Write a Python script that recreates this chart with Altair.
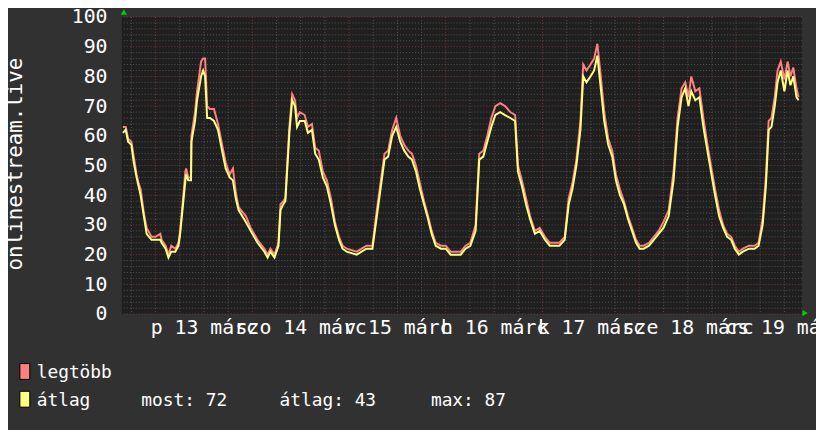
import altair as alt
import pandas as pd

# ---- data (hours since 13 March 00:00) ----
hours = [-8.1, -7.4, -6.8, -6.0, -5.4, -4.7, -4.2, -3.7, -2.9, -2.2, -1.0, 0.0, 1.2, 1.5, 2.5, 3.2, 3.9, 4.9,
         5.7, 6.1, 6.9, 7.4, 7.6, 8.1, 8.8, 8.9, 9.8, 10.3, 11.3, 11.8, 12.3, 12.8, 13.5, 14.5, 15.5, 16.5,
         17.4, 18.4, 19.2, 19.9, 20.6, 22.4, 23.6, 25.3, 27.0, 27.8, 28.5, 29.5, 30.5, 31.0, 31.7, 32.2,
         33.2, 33.9, 34.6, 35.1, 35.8, 37.0, 37.8, 38.8, 39.6, 40.5, 41.5, 42.5, 43.5, 44.5, 45.5, 46.4,
         47.4, 49.9, 52.3, 53.8, 54.8, 55.8, 56.8, 57.7, 58.7, 59.7, 60.7, 61.7, 62.7, 63.6, 64.6, 65.6,
         66.6, 67.6, 68.5, 69.5, 70.8, 72.0, 73.2, 75.7, 76.9, 78.1, 79.4, 80.3, 81.3, 82.3, 83.3, 84.3,
         85.5, 86.7, 88.0, 89.2, 89.9, 90.9, 91.9, 92.9, 94.1, 95.3, 96.6, 97.8, 99.0, 100.2, 101.5,
         102.5, 103.4, 104.4, 105.4, 106.1, 106.9, 107.9, 108.8, 109.6, 110.3, 111.3, 112.3, 113.3,
         114.2, 115.2, 116.2, 117.2, 118.2, 119.2, 120.1, 121.1, 122.4, 123.6, 124.8, 126.0, 127.3,
         128.5, 129.5, 130.5, 131.4, 132.2, 132.9, 133.9, 134.9, 135.9, 136.9, 137.9, 138.8, 139.8,
         140.8, 141.8, 142.8, 143.7, 144.7, 145.7, 147.2, 148.6, 149.6, 150.6, 151.4, 152.1, 152.8,
         153.6, 154.3, 155.1, 156.0, 156.8, 157.5, 158.2, 159.0, 159.5]

atlag = [61, 62, 58, 57, 51, 46, 43, 40, 33, 27, 25, 25, 25, 24, 22, 19, 21, 21,
         23, 27, 38, 45, 47, 45, 45, 58, 65, 72, 80, 82, 80, 66, 66, 65, 62, 55,
         49, 46, 45, 39, 35, 31, 28, 24, 21, 19, 21, 19, 23, 35, 37, 38,
         61, 72, 70, 63, 65, 65, 61, 62, 54, 52, 46, 43, 37, 30, 25, 22,
         21, 20, 22, 22, 32, 42, 52, 53, 60, 63, 58, 55, 53, 52, 48, 42,
         37, 32, 27, 23, 22, 22, 20, 20, 22, 23, 28, 52, 53, 58, 63, 67,
         68, 67, 66, 65, 48, 43, 37, 32, 27, 28, 25, 23, 23, 23, 25,
         37, 42, 50, 62, 80, 78, 80, 82, 87, 78, 65, 57, 53,
         45, 40, 37, 32, 28, 24, 22, 22, 23, 25, 27, 29, 33,
         45, 63, 73, 76, 70, 75, 72, 73, 63, 55, 47, 40, 33,
         29, 26, 25, 22, 20, 21, 22, 22, 23, 30, 43, 62, 63,
         70, 78, 82, 75, 82, 77, 80, 73, 72]

legtobb = [63, 63, 59, 58, 53, 47, 44, 42, 34, 29, 26, 26, 27, 25, 23, 20, 23, 22,
           24, 28, 40, 48, 49, 46, 46, 60, 68, 75, 85, 86, 86, 70, 69, 69, 64, 57,
           51, 47, 49, 41, 36, 33, 29, 25, 22, 20, 22, 20, 24, 37, 38, 39,
           63, 74, 72, 66, 68, 67, 63, 64, 56, 55, 48, 45, 39, 31, 26, 23,
           22, 21, 23, 23, 34, 44, 54, 55, 62, 66, 60, 57, 55, 54, 50, 44,
           38, 33, 28, 24, 23, 23, 21, 21, 23, 24, 30, 54, 55, 60, 66, 70,
           71, 70, 68, 67, 50, 45, 39, 33, 28, 29, 26, 24, 24, 24, 26,
           39, 44, 52, 65, 84, 82, 84, 86, 91, 82, 68, 59, 55,
           47, 42, 38, 33, 29, 25, 23, 23, 24, 26, 28, 31, 35,
           48, 66, 76, 78, 73, 80, 75, 76, 66, 57, 49, 42, 35,
           30, 27, 26, 23, 21, 22, 23, 23, 24, 32, 46, 65, 66,
           73, 82, 85, 79, 85, 80, 83, 76, 73]

day_labels = ["p 13 márc", "szo 14 márc", "v 15 márc", "h 16 márc",
              "k 17 márc", "sze 18 márc", "cs 19 márc"]
y_ticks = list(range(0, 101, 10))
series_names = ["legtöbb", "átlag"]
series_colors = ["#ff8080", "#ffff80"]
stat_texts = ["most: 72", "átlag: 43", "max: 87"]
y_title = "onlinestream.live"

# ---- geometry / styling ----
W, H = 687, 300
X_DOM = [-8.35, 160.4]
FONT = "DejaVu Sans Mono"
BG = "#313131"
PLOT_BG = "#1f1f1f"
MINOR = "#555555"
MAJOR = "#7a3a3a"

label_expr = "[" + ",".join("'" + s + "'" for s in day_labels) + "][floor(datum.value / 24)]"

xax = alt.Axis(values=[12 + 24 * i for i in range(len(day_labels))], labelExpr=label_expr,
               grid=False, ticks=False, domain=False, labelFont=FONT, labelFontSize=20,
               labelColor="#ffffff", labelPadding=4, labelOverlap=False, labelFlush=False,
               labelBound=False, title=None)
yax = alt.Axis(values=y_ticks, grid=False, ticks=False, domain=False, labelFont=FONT,
               labelFontSize=20, labelColor="#ffffff", labelPadding=15, labelBaseline="middle",
               title=y_title, titleFont=FONT, titleFontSize=21, titleFontWeight="normal",
               titleColor="#ffffff", titleAngle=-90, titleX=-107, titleY=H / 2 - 2,
               titleAlign="center", titleBaseline="middle", labelOverlap=False)
xs = alt.Scale(domain=X_DOM, nice=False, zero=False)
ys = alt.Scale(domain=[0, 100], nice=False, zero=False)

df = pd.DataFrame({"h": hours, "avg": atlag, "mx": legtobb})

minor_v = [h for h in range(-6, 160, 6) if h % 24 != 0]
major_v = [h for h in range(0, 160, 24)]
minor_h = [v for v in range(2, 100, 2) if v % 10 != 0]
major_h = [v for v in range(0, 101, 10)]

def vrules(vals, color):
    return alt.Chart(pd.DataFrame({"h": vals})).mark_rule(
        color=color, strokeWidth=1, strokeDash=[1, 2]).encode(
        x=alt.X("h:Q", scale=xs, axis=xax))

def hrules(vals, color):
    return alt.Chart(pd.DataFrame({"v": vals})).mark_rule(
        color=color, strokeWidth=1, strokeDash=[1, 2]).encode(
        y=alt.Y("v:Q", scale=ys, axis=yax))

base = alt.Chart(df)
line_max = base.mark_line(color=series_colors[0], strokeWidth=2).encode(
    x=alt.X("h:Q", scale=xs, axis=xax), y=alt.Y("mx:Q", scale=ys, axis=yax))
line_avg = base.mark_line(color=series_colors[1], strokeWidth=2).encode(
    x=alt.X("h:Q", scale=xs, axis=xax), y=alt.Y("avg:Q", scale=ys, axis=yax))

one = alt.Data(values=[{}])
arrow_up = alt.Chart(one).mark_point(shape="triangle-up", filled=True, color="#00d000",
                                     size=40, opacity=1).encode(
    x=alt.value(2), y=alt.value(-5))
arrow_right = alt.Chart(one).mark_point(shape="triangle-right", filled=True, color="#00d000",
                                        size=40, opacity=1).encode(
    x=alt.value(W + 3), y=alt.value(H - 1))

legend_layers = []
for i, (name, col) in enumerate(zip(series_names, series_colors)):
    top = 350 + 28 * i
    legend_layers.append(alt.Chart(one).mark_rect(fill=col, stroke="#000000", strokeWidth=1).encode(
        x=alt.value(-103), x2=alt.value(-93), y=alt.value(top), y2=alt.value(top + 16)))
    legend_layers.append(alt.Chart(one).mark_text(
        text=name, font=FONT, fontSize=18, color="#ffffff", align="left", baseline="alphabetic").encode(
        x=alt.value(-86), y=alt.value(top + 15)))

stat_centers = [63, 208, 350]
for txt, cx in zip(stat_texts, stat_centers):
    legend_layers.append(alt.Chart(one).mark_text(
        text=txt, font=FONT, fontSize=18, color="#ffffff", align="center", baseline="alphabetic").encode(
        x=alt.value(cx), y=alt.value(350 + 28 + 15)))

chart = alt.layer(
    hrules(minor_h, MINOR), vrules(minor_v, MINOR),
    hrules(major_h, MAJOR), vrules(major_v, MAJOR),
    line_max, line_avg, arrow_up, arrow_right, *legend_layers
).properties(
    width=W, height=H,
    autosize=alt.AutoSizeParams(type="none"),
    padding={"left": 115, "top": 7, "right": 14, "bottom": 115},
    background=BG,
).configure_view(fill=PLOT_BG, stroke=None)

chart.save("out.html", embed_options={"renderer": "svg", "actions": False})
